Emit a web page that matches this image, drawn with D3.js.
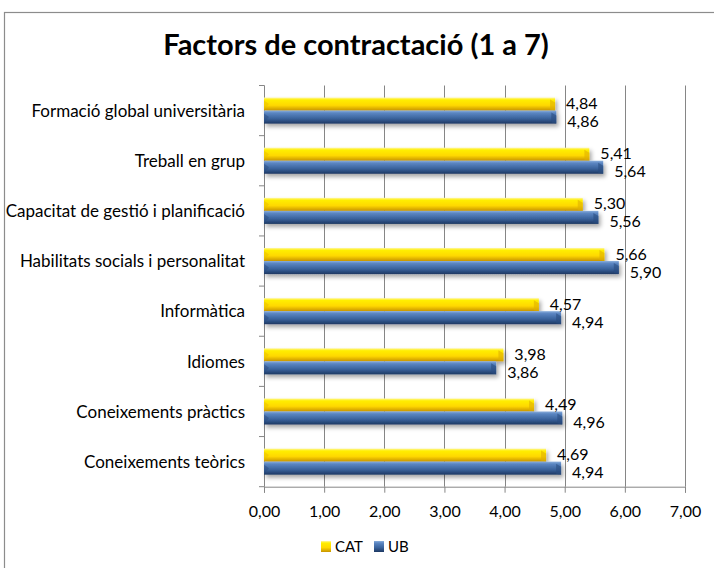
<!DOCTYPE html>
<html><head><meta charset="utf-8">
<script src="https://cdn.jsdelivr.net/npm/d3@7"></script>
<style>body{margin:0;background:#fff}svg{display:block}text{font-family:Lato,"Open Sans",sans-serif;fill:#000}</style>
</head><body>
<script>
const categories = ["Formació global universitària","Treball en grup","Capacitat de gestió i planificació","Habilitats socials i personalitat","Informàtica","Idiomes","Coneixements pràctics","Coneixements teòrics"];
const series = ["CAT","UB"];
const catValues = [4.84,5.41,5.30,5.66,4.57,3.98,4.49,4.69];
const ubValues = [4.86,5.64,5.56,5.90,4.94,3.86,4.96,4.94];
const xTicks = [0,1,2,3,4,5,6,7];
const title = "Factors de contractació (1 a 7)";

const W=714,H=568;
const svg=d3.select("body").append("svg").attr("width",W).attr("height",H);
const defs=svg.append("defs");
function grad(id,stops){const g=defs.append("linearGradient").attr("id",id).attr("x1",0).attr("y1",0).attr("x2",0).attr("y2",1);
 stops.forEach(s=>g.append("stop").attr("offset",s[0]).attr("stop-color",s[1]));}
grad("gCAT",[[0,"#fff7a0"],[0.18,"#ffee00"],[0.6,"#ffd800"],[1,"#c89400"]]);
grad("gUB",[[0,"#8aaedc"],[0.18,"#5b86c2"],[0.6,"#3a639d"],[1,"#1d3862"]]);
const f=defs.append("filter").attr("id","sh").attr("x","-10%").attr("y","-50%").attr("width","130%").attr("height","250%");
f.append("feDropShadow").attr("dx",2).attr("dy",3).attr("stdDeviation",2.2).attr("flood-color","#000").attr("flood-opacity",0.35);

svg.append("rect").attr("x",4.5).attr("y",12.5).attr("width",W).attr("height",H).attr("fill","#fff").attr("stroke","#8c8c8c").attr("stroke-width",1.2);

const x=d3.scaleLinear().domain([0,7]).range([264,685]);
const y=d3.scaleBand().domain(categories).range([85.5,486.7]).paddingInner(0.48).paddingOuter(0.24);
const ys=d3.scaleBand().domain(series).range([0,y.bandwidth()]);

// gridlines
svg.append("g").selectAll("line").data(xTicks.slice(1)).join("line")
 .attr("x1",d=>Math.round(x(d))+0.5).attr("x2",d=>Math.round(x(d))+0.5).attr("y1",85.5).attr("y2",486.7)
 .attr("stroke","#868686").attr("stroke-width",1);

// x axis
const xa=svg.append("g").attr("transform","translate(0,486.7)")
 .call(d3.axisBottom(x).tickValues(xTicks).tickSize(6).tickPadding(13).tickFormat(d=>d3.format(".2f")(d).replace(".",",")));
xa.select(".domain").attr("stroke","#868686");
xa.selectAll(".tick line").attr("stroke","#868686");
xa.selectAll("text").attr("font-size",16).style("font-family","Lato");

// y axis with boundary ticks
const ya=svg.append("g").attr("transform","translate(264,0)");
ya.append("line").attr("x1",0.5).attr("x2",0.5).attr("y1",85.5).attr("y2",486.7).attr("stroke","#868686");
const bounds=d3.range(categories.length+1).map(i=>85.5+i*y.step());
ya.selectAll("line.t").data(bounds).join("line").attr("class","t").attr("x1",-5).attr("x2",0.5).attr("y1",d=>d).attr("y2",d=>d).attr("stroke","#868686");
ya.selectAll("text").data(categories).join("text").attr("x",-19).attr("y",d=>y(d)+y.bandwidth()/2+2)
 .attr("text-anchor","end").attr("dominant-baseline","middle").attr("font-size",17).text(d=>d);

// bars
const rows=categories.map((c,i)=>({c,vals:[{s:"CAT",v:catValues[i]},{s:"UB",v:ubValues[i]}]}));
const g=svg.append("g").attr("filter","url(#sh)");
rows.forEach(r=>{
 r.vals.forEach(d=>{
  const y0=y(r.c)+ys(d.s), h=ys.bandwidth(), x0=x(0), x1=x(d.v);
  g.append("rect").attr("x",x0).attr("y",y0).attr("width",x1-x0).attr("height",h).attr("fill",`url(#g${d.s})`);
  g.append("path").attr("d",`M${x1-5},${y0+2}L${x1},${y0+5}L${x1},${y0+h}L${x1-5},${y0+h-1}Z`)
   .attr("fill",d.s==="CAT"?"#e0b000":"#2a4c80").attr("opacity",0.6);
  g.append("path").attr("d",`M${x0},${y0+3}L${x0+5},${y0+h/2}L${x0},${y0+h-1}Z`).attr("fill",d.s==="CAT"?"#e8c000":"#2a4c80").attr("opacity",0.5);
 });
});
// value labels
const labOff={CAT:1,UB:6};
rows.forEach(r=>{
 r.vals.forEach(d=>{
  svg.append("text").attr("x",x(d.v)+11).attr("y",y(r.c)+ys(d.s)+ys.bandwidth()/2+labOff[d.s])
   .attr("dominant-baseline","middle").attr("font-size",16).text(d3.format(".2f")(d.v).replace(".",","));
 });
});

// title
svg.append("text").attr("x",356).attr("y",48).attr("text-anchor","middle").attr("dominant-baseline","middle")
 .attr("font-size",29).attr("font-weight","bold").text(title);

// legend
const lg=svg.append("g");
const lx=[321,374];
series.forEach((s,i)=>{
 lg.append("rect").attr("x",lx[i]).attr("y",541).attr("width",10).attr("height",11).attr("fill",`url(#g${s})`);
 lg.append("text").attr("x",lx[i]+14).attr("y",548).attr("dominant-baseline","middle").attr("font-size",15).text(s);
});
</script>
</body></html>
